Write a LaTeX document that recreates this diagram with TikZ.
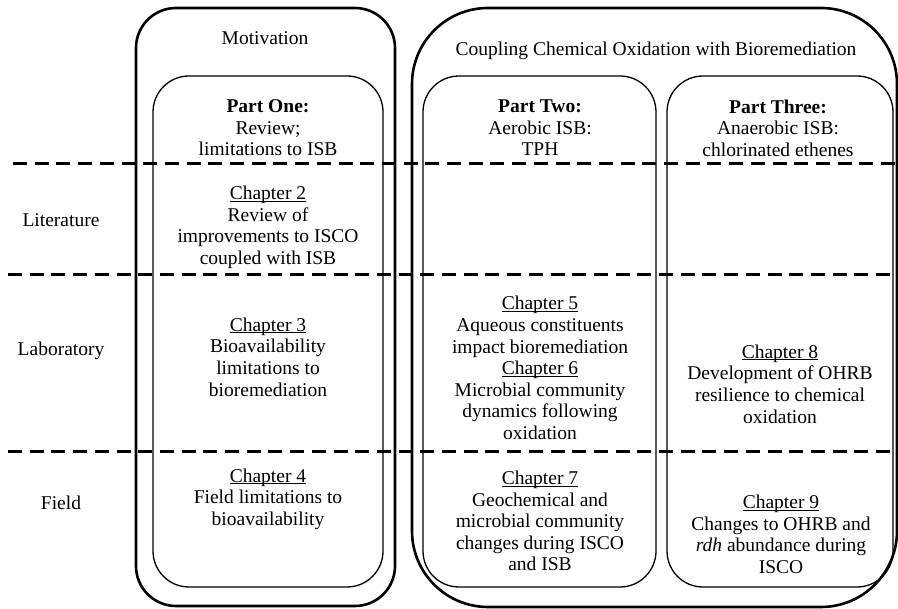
\documentclass[tikz,border=0pt]{standalone}
\usepackage{fontspec}
\setmainfont{Liberation Serif}
\usetikzlibrary{positioning}

\newcommand{\chapterline}[1]{\underline{\smash{#1}}\vphantom{#1}}

\begin{document}
\begin{tikzpicture}[x=1pt, y=-1pt]

    \tikzset{%
    every group/.style={
        draw,
        line width=2.6pt,
        rounded corners=40pt,
        inner sep=0pt
        },
    every part/.style={
        draw,
        line width=1.3pt,
        rounded corners=36pt,
        inner sep=0pt
        },
    row line/.style={
        line width=3pt,
        dash pattern=on 14pt off 7.7pt
        },
    label text/.style={
        align=center,
        font=\fontsize{19.5}{21.6}\selectfont,
        inner sep=0pt
        },
    }

    \useasboundingbox (0,0) rectangle (898,609);

    % Outer groups
    \node [every group, minimum width=259pt, minimum height=598pt] (motivation) at (265.5,307) {};
    \node [every group, rounded corners=76pt, minimum width=485pt, minimum height=599pt] (coupling) at (654.5,307.5) {};

    % Part boxes
    \node [every part, minimum width=230pt, minimum height=511pt] (part-1) at (268,331.5) {};
    \node [every part, minimum width=233pt, minimum height=511pt] (part-2) at (539.5,331.5) {};
    \node [every part, minimum width=226pt, minimum height=511pt] (part-3) at (780,331.5) {};

    % Row separators
    \foreach \n/\y/\s in {1/164/13,2/275/8,3/452/8} {
        \coordinate (row-\n-west) at (\s,\y);
        \coordinate (row-\n-east) at (898,\y);
        \draw [row line] (row-\n-west) -- (row-\n-east);
    }

    % Group titles
    \node [label text] (motivation-title) at (265,38) {Motivation};
    \node [label text] (coupling-title) at (656,51) {Coupling Chemical Oxidation with Bioremediation};

    % Part titles
    \node [label text, anchor=north] (part-1-title) at (268,99.5) {\textbf{Part One:}\\Review;\\limitations to ISB};
    \node [label text, anchor=north] (part-2-title) at (540,99.5) {\textbf{Part Two:}\\Aerobic ISB:\\TPH};
    \node [label text, anchor=north] (part-3-title) at (778,99.5) {\textbf{Part Three:}\\Anaerobic ISB:\\chlorinated ethenes};

    % Row labels
    \foreach \l/\y [count=\i] in {Literature/220,Laboratory/351,Field/503}
    \node [label text] (row-label-\i) at (61,\y) {\l};

    % Chapters
    \node [label text] (chapter-2) at (268,227.5) {\chapterline{Chapter 2}\\Review of\\improvements to ISCO\\coupled with ISB};
    \node [label text] (chapter-3) at (268,357) {\chapterline{Chapter 3}\\Bioavailability\\limitations to\\bioremediation};
    \node [label text] (chapter-4) at (268,499) {\chapterline{Chapter 4}\\Field limitations to\\bioavailability};
    \node [label text] (chapter-5) at (540,368) {\chapterline{Chapter 5}\\Aqueous constituents\\impact bioremediation\\\chapterline{Chapter 6}\\Microbial community\\dynamics following\\oxidation};
    \node [label text] (chapter-7) at (540,521) {\chapterline{Chapter 7}\\Geochemical and\\microbial community\\changes during ISCO\\and ISB};
    \node [label text] (chapter-8) at (780,384) {\chapterline{Chapter 8}\\Development of OHRB\\resilience to chemical\\oxidation};
    \node [label text] (chapter-9) at (781,534.5) {\chapterline{Chapter 9}\\Changes to OHRB and\\\textit{rdh} abundance during\\ISCO};

\end{tikzpicture}
\end{document}
